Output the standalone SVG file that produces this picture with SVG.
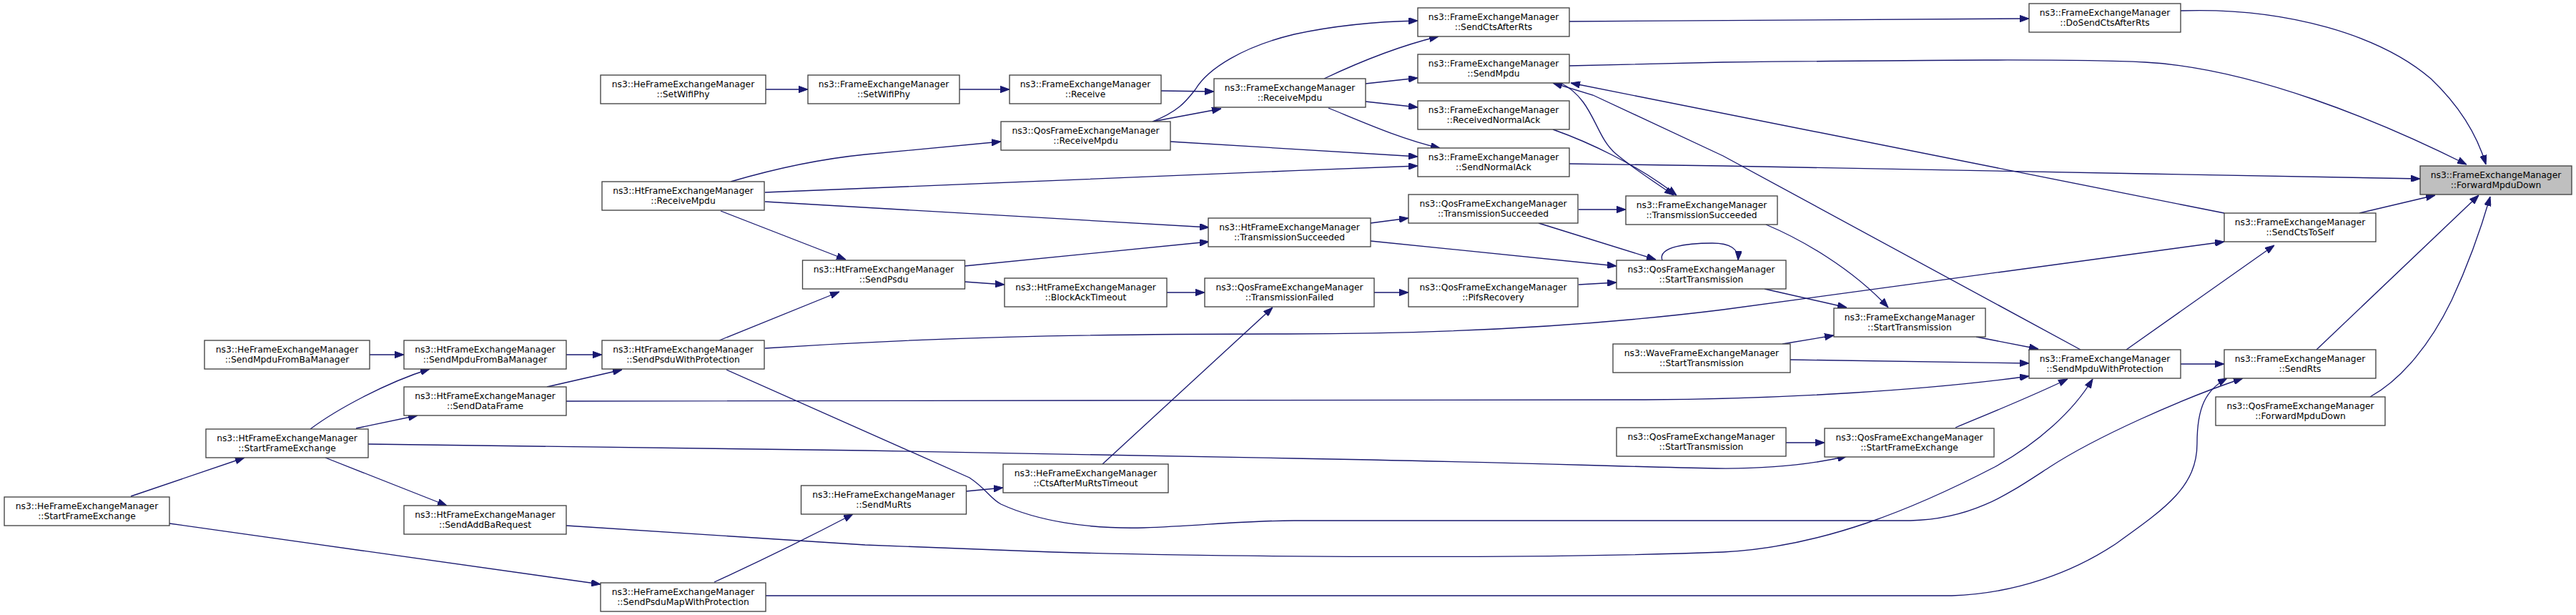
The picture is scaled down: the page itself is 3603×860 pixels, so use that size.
<svg xmlns="http://www.w3.org/2000/svg" width="3603" height="860" viewBox="0 0 3603 860">
<style>
.node rect{fill:#ffffff;stroke:#404040;stroke-width:1.33}
.node.root rect{fill:#bfbfbf}
.node text{font-family:"DejaVu Sans","Liberation Sans",sans-serif;font-size:12.3px;fill:#000000;text-anchor:middle}
.edge{fill:none;stroke:#191970;stroke-width:1.33;marker-end:url(#ah)}
</style>
<defs>
<marker id="ah" viewBox="0 0 13 9.4" refX="13" refY="4.7" markerWidth="13" markerHeight="9.4" markerUnits="userSpaceOnUse" orient="auto">
<path d="M0,0 L13,4.7 L0,9.4 z" fill="#191970" stroke="#191970" stroke-width="1"/>
</marker>
</defs>
<rect width="3603" height="860" fill="#ffffff"/>
<g id="edges">
<path class="edge" d="M517,496 L565,496"/>
<path class="edge" d="M434,600 C470,573 540,535 601,516"/>
<path class="edge" d="M498,599 L584,581"/>
<path class="edge" d="M515,621 L1210,630 L1810,641 C2100,646 2250,652 2400,655 C2480,656 2540,648 2583,638"/>
<path class="edge" d="M455,640 L625,707"/>
<path class="edge" d="M183,694 L342,640"/>
<path class="edge" d="M237,732 L840,817"/>
<path class="edge" d="M792,496 L842,496"/>
<path class="edge" d="M765,541 L870,517"/>
<path class="edge" d="M792,561 L2300,559 C2500,558 2700,545 2838,526"/>
<path class="edge" d="M1006,476 L1174,408"/>
<path class="edge" d="M1070,487 C1300,472 1500,467 1800,467 C2050,467 2250,453 2410,433 L3111,338"/>
<path class="edge" d="M1016,517 L1356,668 C1380,684 1385,697 1400,705 C1450,728 1520,740 1600,738 C1680,735 1740,728 1810,728 L2672,728 C2760,726 2810,690 2867,653 C2930,612 3050,558 3137,529"/>
<path class="edge" d="M999,814 C1060,786 1130,752 1193,719"/>
<path class="edge" d="M792,735 L1210,762 L1472,772 C1700,779 2150,782 2410,772 C2550,765 2680,710 2790,653 C2850,620 2900,575 2927,530"/>
<path class="edge" d="M1071,125 L1130,125"/>
<path class="edge" d="M1022,254 C1080,237 1150,222 1210,216 L1400,198"/>
<path class="edge" d="M1070,269 L1810,238.7 L1983,232"/>
<path class="edge" d="M1070,282 L1691,318"/>
<path class="edge" d="M1008,295 L1183,363"/>
<path class="edge" d="M1342,125 L1412,125"/>
<path class="edge" d="M1624,127 L1698,128"/>
<path class="edge" d="M1612,170 L1708,152"/>
<path class="edge" d="M1612,170 C1650,155 1660,140 1672,125 C1690,95 1740,65 1810,48 C1870,35 1930,30 1983,29"/>
<path class="edge" d="M1637,198 L1983,219"/>
<path class="edge" d="M1349,372 L1691,338"/>
<path class="edge" d="M1349,394 L1405,398"/>
<path class="edge" d="M1632,409 L1685,409"/>
<path class="edge" d="M1351,687 L1403,682"/>
<path class="edge" d="M1542,649 L1780,430"/>
<path class="edge" d="M1852,110 C1890,92 1950,66 2012,51"/>
<path class="edge" d="M1910,117 L1983,109"/>
<path class="edge" d="M1910,142 L1983,150"/>
<path class="edge" d="M1858,151 C1900,168 1960,195 2014,207"/>
<path class="edge" d="M1917,312 L1970,305"/>
<path class="edge" d="M1917,337 L2261,372"/>
<path class="edge" d="M2208,293 L2274,293"/>
<path class="edge" d="M2152,312 L2316,363"/>
<path class="edge" d="M1922,409 L1970,409"/>
<path class="edge" d="M2208,398 L2261,395"/>
<path class="edge" d="M2195,30 L2838,26"/>
<path class="edge" d="M2195,92 L2410,87 C2700,84 2900,82 3000,87 C3150,95 3330,170 3450,230"/>
<path class="edge" d="M2195,229 L2410,232 L3000,243 L3385,250"/>
<path class="edge" d="M2172,181 C2220,198 2290,230 2345,273"/>
<path class="edge" d="M2183,116 C2230,140 2230,190 2260,215 C2290,240 2320,258 2341,273"/>
<path class="edge" d="M3111,298 L2197,116"/>
<path class="edge" d="M2910,489 L2410,218 L2228,133 L2172,116"/>
<path class="edge" d="M2470,314 C2520,335 2590,375 2641,430"/>
<path class="edge" d="M2468,404 L2583,430"/>
<path class="edge" d="M2325,364 C2318,345 2360,340 2395,340 C2420,340 2432,348 2431,364"/>
<path class="edge" d="M2764,471 L2851,488"/>
<path class="edge" d="M2493,481 L2565,469"/>
<path class="edge" d="M2504,503 L2838,508"/>
<path class="edge" d="M2498,619 L2552,619"/>
<path class="edge" d="M2735,598 C2790,575 2840,555 2892,530"/>
<path class="edge" d="M3050,509 L3111,509"/>
<path class="edge" d="M2974,489 L3181,343"/>
<path class="edge" d="M3050,15 C3200,10 3330,50 3400,110 C3440,148 3465,190 3477,230"/>
<path class="edge" d="M3300,298 L3406,273"/>
<path class="edge" d="M3240,489 L3467,273"/>
<path class="edge" d="M3315,555 C3360,530 3400,480 3429,420 C3450,375 3470,320 3483,275"/>
<path class="edge" d="M1071,833 L2730,833 C2820,830 2900,800 2960,760 C3030,710 3073,680 3073,620 C3073,570 3085,545 3115,529"/>
</g>
<g id="n_fwd" class="node root"><rect x="3385" y="232" width="212" height="40"/><text><tspan x="3491" y="248.5">ns3::FrameExchangeManager</tspan><tspan x="3491" y="262.5">::ForwardMpduDown</tspan></text></g>
<g id="n_sendCtsToSelf" class="node"><rect x="3111" y="298" width="212" height="40"/><text><tspan x="3217" y="314.5">ns3::FrameExchangeManager</tspan><tspan x="3217" y="328.5">::SendCtsToSelf</tspan></text></g>
<g id="n_sendRts" class="node"><rect x="3111" y="489" width="212" height="40"/><text><tspan x="3217" y="505.5">ns3::FrameExchangeManager</tspan><tspan x="3217" y="519.5">::SendRts</tspan></text></g>
<g id="n_qosFwd" class="node"><rect x="3099" y="555" width="237" height="40"/><text><tspan x="3217.5" y="571.5">ns3::QosFrameExchangeManager</tspan><tspan x="3217.5" y="585.5">::ForwardMpduDown</tspan></text></g>
<g id="n_doSendCts" class="node"><rect x="2838" y="5" width="212" height="40"/><text><tspan x="2944" y="21.5">ns3::FrameExchangeManager</tspan><tspan x="2944" y="35.5">::DoSendCtsAfterRts</tspan></text></g>
<g id="n_sendMpduWP" class="node"><rect x="2838" y="489" width="212" height="40"/><text><tspan x="2944" y="505.5">ns3::FrameExchangeManager</tspan><tspan x="2944" y="519.5">::SendMpduWithProtection</tspan></text></g>
<g id="n_femStartTx" class="node"><rect x="2565" y="431" width="212" height="40"/><text><tspan x="2671" y="447.5">ns3::FrameExchangeManager</tspan><tspan x="2671" y="461.5">::StartTransmission</tspan></text></g>
<g id="n_qosStartFE" class="node"><rect x="2552" y="599" width="237" height="40"/><text><tspan x="2670.5" y="615.5">ns3::QosFrameExchangeManager</tspan><tspan x="2670.5" y="629.5">::StartFrameExchange</tspan></text></g>
<g id="n_femTS" class="node"><rect x="2274" y="274" width="212" height="40"/><text><tspan x="2380" y="290.5">ns3::FrameExchangeManager</tspan><tspan x="2380" y="304.5">::TransmissionSucceeded</tspan></text></g>
<g id="n_qosStartTx" class="node"><rect x="2261" y="364" width="237" height="40"/><text><tspan x="2379.5" y="380.5">ns3::QosFrameExchangeManager</tspan><tspan x="2379.5" y="394.5">::StartTransmission</tspan></text></g>
<g id="n_waveStartTx" class="node"><rect x="2256" y="481" width="248" height="40"/><text><tspan x="2380" y="497.5">ns3::WaveFrameExchangeManager</tspan><tspan x="2380" y="511.5">::StartTransmission</tspan></text></g>
<g id="n_qosStartTx2" class="node"><rect x="2261" y="598" width="237" height="40"/><text><tspan x="2379.5" y="614.5">ns3::QosFrameExchangeManager</tspan><tspan x="2379.5" y="628.5">::StartTransmission</tspan></text></g>
<g id="n_sendCtsAfterRts" class="node"><rect x="1983" y="11" width="212" height="40"/><text><tspan x="2089" y="27.5">ns3::FrameExchangeManager</tspan><tspan x="2089" y="41.5">::SendCtsAfterRts</tspan></text></g>
<g id="n_sendMpdu" class="node"><rect x="1983" y="76" width="212" height="40"/><text><tspan x="2089" y="92.5">ns3::FrameExchangeManager</tspan><tspan x="2089" y="106.5">::SendMpdu</tspan></text></g>
<g id="n_recvNormalAck" class="node"><rect x="1983" y="141" width="212" height="40"/><text><tspan x="2089" y="157.5">ns3::FrameExchangeManager</tspan><tspan x="2089" y="171.5">::ReceivedNormalAck</tspan></text></g>
<g id="n_sendNormalAck" class="node"><rect x="1983" y="207" width="212" height="40"/><text><tspan x="2089" y="223.5">ns3::FrameExchangeManager</tspan><tspan x="2089" y="237.5">::SendNormalAck</tspan></text></g>
<g id="n_qosTS" class="node"><rect x="1970" y="272" width="237" height="40"/><text><tspan x="2088.5" y="288.5">ns3::QosFrameExchangeManager</tspan><tspan x="2088.5" y="302.5">::TransmissionSucceeded</tspan></text></g>
<g id="n_pifs" class="node"><rect x="1970" y="389" width="237" height="40"/><text><tspan x="2088.5" y="405.5">ns3::QosFrameExchangeManager</tspan><tspan x="2088.5" y="419.5">::PifsRecovery</tspan></text></g>
<g id="n_femRecvMpdu" class="node"><rect x="1698" y="110" width="212" height="40"/><text><tspan x="1804" y="126.5">ns3::FrameExchangeManager</tspan><tspan x="1804" y="140.5">::ReceiveMpdu</tspan></text></g>
<g id="n_htTS" class="node"><rect x="1690" y="305" width="227" height="40"/><text><tspan x="1803.5" y="321.5">ns3::HtFrameExchangeManager</tspan><tspan x="1803.5" y="335.5">::TransmissionSucceeded</tspan></text></g>
<g id="n_qosTF" class="node"><rect x="1685" y="389" width="237" height="40"/><text><tspan x="1803.5" y="405.5">ns3::QosFrameExchangeManager</tspan><tspan x="1803.5" y="419.5">::TransmissionFailed</tspan></text></g>
<g id="n_femReceive" class="node"><rect x="1412" y="105" width="212" height="40"/><text><tspan x="1518" y="121.5">ns3::FrameExchangeManager</tspan><tspan x="1518" y="135.5">::Receive</tspan></text></g>
<g id="n_qosRecvMpdu" class="node"><rect x="1400" y="170" width="237" height="40"/><text><tspan x="1518.5" y="186.5">ns3::QosFrameExchangeManager</tspan><tspan x="1518.5" y="200.5">::ReceiveMpdu</tspan></text></g>
<g id="n_blockAck" class="node"><rect x="1405" y="389" width="227" height="40"/><text><tspan x="1518.5" y="405.5">ns3::HtFrameExchangeManager</tspan><tspan x="1518.5" y="419.5">::BlockAckTimeout</tspan></text></g>
<g id="n_ctsMuRts" class="node"><rect x="1403" y="649" width="231" height="40"/><text><tspan x="1518.5" y="665.5">ns3::HeFrameExchangeManager</tspan><tspan x="1518.5" y="679.5">::CtsAfterMuRtsTimeout</tspan></text></g>
<g id="n_femSetWifi" class="node"><rect x="1130" y="105" width="212" height="40"/><text><tspan x="1236" y="121.5">ns3::FrameExchangeManager</tspan><tspan x="1236" y="135.5">::SetWifiPhy</tspan></text></g>
<g id="n_sendPsdu" class="node"><rect x="1122.5" y="364" width="227" height="40"/><text><tspan x="1236" y="380.5">ns3::HtFrameExchangeManager</tspan><tspan x="1236" y="394.5">::SendPsdu</tspan></text></g>
<g id="n_sendMuRts" class="node"><rect x="1120.5" y="679" width="231" height="40"/><text><tspan x="1236" y="695.5">ns3::HeFrameExchangeManager</tspan><tspan x="1236" y="709.5">::SendMuRts</tspan></text></g>
<g id="n_heSetWifi" class="node"><rect x="840" y="105" width="231" height="40"/><text><tspan x="955.5" y="121.5">ns3::HeFrameExchangeManager</tspan><tspan x="955.5" y="135.5">::SetWifiPhy</tspan></text></g>
<g id="n_htRecvMpdu" class="node"><rect x="842" y="254" width="227" height="40"/><text><tspan x="955.5" y="270.5">ns3::HtFrameExchangeManager</tspan><tspan x="955.5" y="284.5">::ReceiveMpdu</tspan></text></g>
<g id="n_sendPsduWP" class="node"><rect x="842" y="476" width="227" height="40"/><text><tspan x="955.5" y="492.5">ns3::HtFrameExchangeManager</tspan><tspan x="955.5" y="506.5">::SendPsduWithProtection</tspan></text></g>
<g id="n_sendPsduMapWP" class="node"><rect x="840" y="815" width="231" height="40"/><text><tspan x="955.5" y="831.5">ns3::HeFrameExchangeManager</tspan><tspan x="955.5" y="845.5">::SendPsduMapWithProtection</tspan></text></g>
<g id="n_htSendMpduBa" class="node"><rect x="565" y="476" width="227" height="40"/><text><tspan x="678.5" y="492.5">ns3::HtFrameExchangeManager</tspan><tspan x="678.5" y="506.5">::SendMpduFromBaManager</tspan></text></g>
<g id="n_sendDataFrame" class="node"><rect x="565" y="541" width="227" height="40"/><text><tspan x="678.5" y="557.5">ns3::HtFrameExchangeManager</tspan><tspan x="678.5" y="571.5">::SendDataFrame</tspan></text></g>
<g id="n_sendAddBa" class="node"><rect x="565" y="707" width="227" height="40"/><text><tspan x="678.5" y="723.5">ns3::HtFrameExchangeManager</tspan><tspan x="678.5" y="737.5">::SendAddBaRequest</tspan></text></g>
<g id="n_heSendMpduBa" class="node"><rect x="286" y="476" width="231" height="40"/><text><tspan x="401.5" y="492.5">ns3::HeFrameExchangeManager</tspan><tspan x="401.5" y="506.5">::SendMpduFromBaManager</tspan></text></g>
<g id="n_htStartFE" class="node"><rect x="288" y="600" width="227" height="40"/><text><tspan x="401.5" y="616.5">ns3::HtFrameExchangeManager</tspan><tspan x="401.5" y="630.5">::StartFrameExchange</tspan></text></g>
<g id="n_heStartFE" class="node"><rect x="6" y="695" width="231" height="40"/><text><tspan x="121.5" y="711.5">ns3::HeFrameExchangeManager</tspan><tspan x="121.5" y="725.5">::StartFrameExchange</tspan></text></g>
</svg>
